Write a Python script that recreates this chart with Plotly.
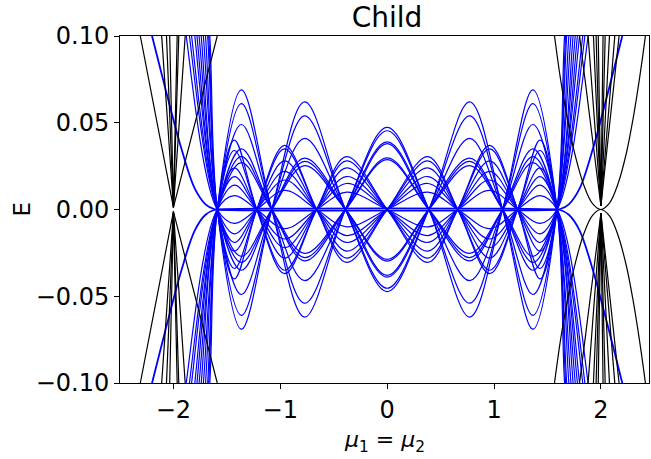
import plotly.graph_objects as go

# ---------------- data ----------------
# Family B: levels whose zero crossings sit at these mu values
B_nodes = [-1.59, -1.08, -0.39, 0.39, 1.08, 1.59]
B_peak_mu = [-1.364, -0.772, 0.0, 0.772, 1.364]
# peak heights of the three distinct arches (outer, middle, centre) per level
B_peaks = [
    [0.069, 0.062, 0.0473],
    [0.061, 0.054, 0.0454],
    [0.049, 0.041, 0.039],
    [0.035, 0.0296, 0.038],
    [0.0305, 0.0277, 0.0297],
    [0.027, 0.0253, 0.0287],
]
# |mu| at which the steep outer branch leaves the window (|E| = 0.1)
B_edge = [1.66, 1.67, 1.70, 1.74, 1.78, 1.83]

# Family A: levels whose zero crossings sit at these mu values
A_nodes = [-1.59, -1.22, -0.66, 0.0, 0.66, 1.22, 1.59]
A_peak_mu = [-1.43, -0.96, -0.38, 0.38, 0.96, 1.43]
A_peaks = [
    [0.040, 0.037, 0.0305],
    [0.034, 0.035, 0.028],
    [0.024, 0.028, 0.024],
    [0.019, 0.022, 0.019],
    [0.014, 0.017, 0.015],
    [0.008, 0.011, 0.010],
]
A_edge = [1.68, 1.72, 1.76, 1.80, 1.85, 1.88]

# near-zero (edge) mode
zero_mu = [-2.26, -2.2, -2.06, -1.925, -1.8, -1.7, -1.62, -1.59,
           1.59, 1.62, 1.7, 1.8, 1.925, 2.06, 2.2, 2.26]
zero_E = [0.115, 0.1, 0.066, 0.035, 0.012, 0.003, 0.0003, 0.0,
          0.0, 0.0003, 0.003, 0.012, 0.035, 0.066, 0.1, 0.115]

# black (parent) bands near mu = -2 : V shapes, mu where |E| = 0.1 on each side
left_V_vertex = [-2.0, 0.0012]
left_V_pairs = [[-2.31, -1.59], [-2.11, -1.89], [-2.065, -1.95], [-2.035, -1.965]]
# black bands near mu = +2
right_V_vertex = [2.0, 0.002]
right_V_pairs = [[1.80, 2.17], [1.88, 2.13], [1.93, 2.08], [1.955, 2.04], [1.975, 2.02]]
para_mu = [1.50, 1.557, 1.62, 1.69, 1.76, 1.84, 1.92, 2.0, 2.08, 2.16, 2.24, 2.30, 2.36, 2.41, 2.46]
para_E = [0.13, 0.104, 0.076, 0.051, 0.031, 0.014, 0.0035, 0.0, 0.0037, 0.0148, 0.033, 0.052, 0.075, 0.097, 0.122]

x_ticks = [-2, -1, 0, 1, 2]
x_ticktext = ["−2", "−1", "0", "1", "2"]
y_ticks = [-0.1, -0.05, 0.0, 0.05, 0.1]
y_ticktext = ["−0.10", "−0.05", "0.00", "0.05", "0.10"]

BLUE = "#0000ff"
BLACK = "#000000"
LW = 1.2

fig = go.Figure()


def level_points(nodes, peak_mu, arch_heights, edge):
    """Key points of one level: outer branch, alternating arches, outer branch."""
    n_arch = len(peak_mu)
    mus = [-(edge + 0.05), -edge]
    Es = [-0.135, -0.1]
    for k in range(n_arch):
        sign = 1 if k % 2 == 0 else -1
        mus += [nodes[k], peak_mu[k]]
        Es += [0.0, sign * arch_heights[k]]
    mus.append(nodes[-1])
    Es.append(0.0)
    last_sign = 1 if (n_arch - 1) % 2 == 0 else -1
    mus += [edge, edge + 0.05]
    Es += [-last_sign * 0.1, -last_sign * 0.135]
    return mus, Es


def add_level(mus, Es, color, width=LW):
    for s in (1, -1):
        fig.add_trace(go.Scatter(
            x=mus, y=[s * e for e in Es], mode="lines",
            line=dict(color=color, width=width, shape="spline", smoothing=1.0),
            hoverinfo="skip", showlegend=False))


for pk, ed in zip(B_peaks, B_edge):
    heights = [pk[0], pk[1], pk[2], pk[1], pk[0]]
    m, e = level_points(B_nodes, B_peak_mu, heights, ed)
    add_level(m, e, BLUE)

for pk, ed in zip(A_peaks, A_edge):
    heights = [pk[0], pk[1], pk[2], pk[2], pk[1], pk[0]]
    m, e = level_points(A_nodes, A_peak_mu, heights, ed)
    add_level(m, e, BLUE)

add_level(zero_mu, zero_E, BLUE, width=1.8)

# black bands
for lo, hi in left_V_pairs:
    for s in (1, -1):
        fig.add_trace(go.Scatter(
            x=[lo, left_V_vertex[0], hi],
            y=[s * 0.1, s * left_V_vertex[1], s * 0.1], mode="lines",
            line=dict(color=BLACK, width=LW), hoverinfo="skip", showlegend=False))
for lo, hi in right_V_pairs:
    for s in (1, -1):
        fig.add_trace(go.Scatter(
            x=[lo, right_V_vertex[0], hi],
            y=[s * 0.1, s * right_V_vertex[1], s * 0.1], mode="lines",
            line=dict(color=BLACK, width=LW), hoverinfo="skip", showlegend=False))
for s in (1, -1):
    fig.add_trace(go.Scatter(
        x=para_mu, y=[s * e for e in para_E], mode="lines",
        line=dict(color=BLACK, width=LW, shape="spline"),
        hoverinfo="skip", showlegend=False))

FONT = "DejaVu Sans"
fig.update_layout(
    width=651, height=459,
    margin=dict(l=120, r=2, t=36, b=76),
    plot_bgcolor="white", paper_bgcolor="white",
    font=dict(family=FONT, size=24, color="black"),
    title=dict(text="Child", x=(387 / 651), xanchor="center",
               y=1 - 17 / 459, yanchor="middle", yref="container",
               font=dict(family=FONT, size=28, color="black")),
    xaxis=dict(range=[-2.5, 2.45], tickvals=x_ticks, ticktext=x_ticktext,
               showgrid=False, zeroline=False, showline=True, linecolor="black",
               linewidth=1, mirror=True, ticks="outside", ticklen=5,
               tickcolor="black", tickfont=dict(size=24)),
    yaxis=dict(range=[-0.1, 0.1], tickvals=y_ticks, ticktext=y_ticktext,
               showgrid=False, zeroline=False, showline=True, linecolor="black",
               linewidth=1, mirror=True, ticks="outside", ticklen=5,
               tickcolor="black", tickfont=dict(size=24)),
    annotations=[
        dict(text="E", xref="paper", yref="paper", x=(21 - 120) / 529, y=0.5,
             textangle=-90, showarrow=False, xanchor="center", yanchor="middle",
             font=dict(family=FONT, size=23)),
        dict(text="<i>μ</i><sub>1</sub> = <i>μ</i><sub>2</sub>", xref="paper",
             yref="paper", x=0.5, y=(383 - 441) / 347, showarrow=False,
             xanchor="center", yanchor="middle", font=dict(family=FONT, size=22)),
    ],
)

fig.write_html("out.html")
